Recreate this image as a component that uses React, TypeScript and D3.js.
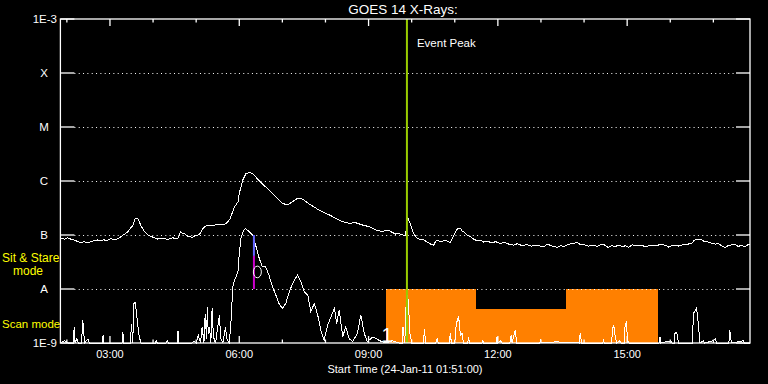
import * as d3 from "d3";

const W = 768;
const H = 384;

// times are decimal UT hours on 24-Jan-11, flux in W/m^2
const START_H = 1 + 51 / 60;
const END_H = START_H + 16;
const EVENT_PEAK = 9.89;
const MARK_TIME = 6.34;

const yLevels = [1e-3, 1e-4, 1e-5, 1e-6, 1e-7, 1e-8, 1e-9];
const yLabels = ["1E-3", "X", "M", "C", "B", "A", "1E-9"];
const majorHours = [3, 6, 9, 12, 15];
const majorLabels = ["03:00", "06:00", "09:00", "12:00", "15:00"];
const minorHours = [2, 4, 5, 7, 8, 10, 11, 13, 14, 16, 17];

const longFlux: [number, number][] = [
  [1.85, 8.7e-8], [1.95, 8.4e-8], [2.02, 8.9e-8], [2.1, 8.3e-8], [2.18, 8.0e-8], [2.25, 7.6e-8],
  [2.33, 7.2e-8], [2.4, 7.5e-8], [2.49, 7.2e-8], [2.56, 7.6e-8], [2.64, 7.9e-8], [2.72, 8.1e-8],
  [2.8, 7.9e-8], [2.86, 8.2e-8], [2.91, 7.7e-8], [2.97, 8.3e-8], [3.03, 8.5e-8], [3.1, 8.2e-8],
  [3.19, 8.5e-8], [3.26, 9.4e-8], [3.34, 1.04e-7], [3.4, 1.12e-7], [3.46, 1.28e-7], [3.53, 1.51e-7],
  [3.59, 2.04e-7], [3.65, 1.98e-7], [3.73, 1.43e-7], [3.78, 1.22e-7], [3.84, 1.07e-7], [3.92, 9.6e-8],
  [4.0, 9.1e-8], [4.11, 8.4e-8], [4.2, 8.7e-8], [4.27, 8.5e-8], [4.35, 8.3e-8], [4.46, 8.9e-8],
  [4.52, 8.5e-8], [4.58, 8.7e-8], [4.64, 1.15e-7], [4.7, 1.05e-7], [4.73, 1.07e-7], [4.8, 9.4e-8],
  [4.85, 9.3e-8], [4.92, 9.0e-8], [4.96, 9.6e-8], [5.04, 1.0e-7], [5.08, 1.04e-7], [5.15, 1.3e-7],
  [5.2, 1.43e-7], [5.26, 1.49e-7], [5.35, 1.47e-7], [5.43, 1.53e-7], [5.5, 1.55e-7], [5.58, 1.6e-7],
  [5.65, 1.58e-7], [5.7, 1.65e-7], [5.78, 1.95e-7], [5.84, 2.6e-7], [5.89, 3.34e-7], [5.97, 4.08e-7],
  [6.0, 5.9e-7], [6.08, 1.04e-6], [6.15, 1.35e-6], [6.23, 1.45e-6], [6.29, 1.4e-6], [6.35, 1.29e-6],
  [6.43, 1.07e-6], [6.54, 8.8e-7], [6.69, 6.8e-7], [6.85, 5.1e-7], [7.0, 3.86e-7], [7.12, 3.6e-7],
  [7.24, 4.14e-7], [7.35, 4.8e-7], [7.47, 4.6e-7], [7.62, 3.75e-7], [7.85, 2.9e-7], [8.09, 2.35e-7],
  [8.24, 2.04e-7], [8.4, 1.76e-7], [8.55, 1.65e-7], [8.7, 1.69e-7], [8.86, 1.53e-7], [9.01, 1.43e-7],
  [9.17, 1.24e-7], [9.32, 1.15e-7], [9.4, 1.22e-7], [9.48, 1.2e-7], [9.55, 1.12e-7], [9.63, 1.04e-7],
  [9.7, 1.07e-7], [9.79, 1.0e-7], [9.86, 9.8e-8], [9.9, 2.18e-7], [9.94, 1.8e-7], [9.98, 1.53e-7],
  [10.04, 1.1e-7], [10.1, 9.1e-8], [10.13, 8.7e-8], [10.2, 8.3e-8], [10.28, 8.1e-8], [10.36, 7.4e-8],
  [10.44, 6.8e-8], [10.51, 6.5e-8], [10.55, 7.5e-8], [10.59, 8.1e-8], [10.65, 7.6e-8], [10.71, 7.7e-8],
  [10.8, 7.9e-8], [10.9, 7.2e-8], [10.95, 9.0e-8], [10.99, 1.04e-7], [11.07, 1.33e-7], [11.13, 1.33e-7],
  [11.17, 1.18e-7], [11.21, 1.15e-7], [11.28, 1.0e-7], [11.36, 9.3e-8], [11.44, 8.4e-8], [11.52, 7.8e-8],
  [11.6, 8.0e-8], [11.67, 7.4e-8], [11.75, 7.7e-8], [11.85, 7.2e-8], [11.95, 7.5e-8], [12.06, 7.0e-8],
  [12.15, 7.3e-8], [12.25, 6.8e-8], [12.37, 6.5e-8], [12.45, 6.9e-8], [12.55, 6.4e-8], [12.68, 6.6e-8],
  [12.78, 6.2e-8], [12.88, 6.5e-8], [12.99, 6.25e-8], [13.07, 6.0e-8], [13.14, 6.8e-8], [13.25, 6.3e-8],
  [13.37, 5.9e-8], [13.46, 6.4e-8], [13.53, 6.1e-8], [13.6, 6.5e-8], [13.7, 6.9e-8], [13.78, 7.1e-8],
  [13.84, 7.3e-8], [13.92, 6.6e-8], [13.99, 6.7e-8], [14.1, 6.2e-8], [14.22, 6.5e-8], [14.3, 6.1e-8],
  [14.41, 6.8e-8], [14.48, 6.5e-8], [14.56, 5.9e-8], [14.64, 6.4e-8], [14.72, 6.1e-8], [14.8, 6.5e-8],
  [14.9, 6.0e-8], [14.96, 6.4e-8], [15.03, 5.9e-8], [15.12, 6.6e-8], [15.22, 6.3e-8], [15.34, 6.5e-8],
  [15.42, 6.0e-8], [15.52, 6.4e-8], [15.64, 6.25e-8], [15.75, 6.6e-8], [15.88, 6.5e-8], [15.96, 6.0e-8],
  [16.05, 6.4e-8], [16.19, 6.25e-8], [16.3, 6.6e-8], [16.42, 6.8e-8], [16.5, 7.1e-8], [16.54, 7.7e-8],
  [16.6, 8.4e-8], [16.66, 8.4e-8], [16.73, 8.1e-8], [16.8, 7.5e-8], [16.84, 7.6e-8], [16.94, 7.1e-8],
  [17.04, 6.8e-8], [17.12, 6.9e-8], [17.2, 6.3e-8], [17.27, 5.9e-8], [17.35, 6.4e-8], [17.43, 6.6e-8],
  [17.5, 6.7e-8], [17.58, 6.1e-8], [17.65, 6.5e-8], [17.73, 6.0e-8], [17.8, 6.6e-8], [17.85, 6.8e-8],
];

const shortFlux: [number, number][] = [
  [1.85, 1e-9], [1.95, 1.1e-9], [2.02, 1e-9], [2.15, 1e-9], [2.17, 2.0e-9], [2.19, 1e-9],
  [2.23, 1.2e-9], [2.27, 1e-9], [2.34, 1e-9], [2.37, 2.7e-9], [2.39, 1.6e-9], [2.41, 1e-9],
  [2.49, 1.2e-9], [2.52, 1e-9], [2.82, 1e-9], [2.84, 1.4e-9], [2.86, 1e-9], [3.28, 1e-9],
  [3.3, 1.6e-9], [3.32, 1e-9], [3.47, 1e-9], [3.5, 2.2e-9], [3.53, 1e-9], [3.55, 5.4e-9],
  [3.59, 5.6e-9], [3.62, 3.3e-9], [3.65, 2.0e-9], [3.68, 1.3e-9], [3.72, 1e-9], [4.05, 1e-9],
  [4.07, 1.1e-9], [4.1, 1e-9], [4.3, 1e-9], [4.33, 1.1e-9], [4.36, 1e-9], [4.56, 1e-9],
  [4.58, 1.7e-9], [4.6, 1e-9], [4.9, 1e-9], [4.95, 1.1e-9], [5.0, 1e-9], [5.05, 1.4e-9],
  [5.1, 1e-9], [5.14, 2.0e-9], [5.18, 1e-9], [5.21, 3.5e-9], [5.24, 1.2e-9], [5.26, 4.7e-9],
  [5.28, 1.5e-9], [5.31, 2.0e-9], [5.34, 1e-9], [5.37, 4.4e-9], [5.4, 1.3e-9], [5.45, 1e-9],
  [5.5, 2.0e-9], [5.54, 3.3e-9], [5.57, 1.2e-9], [5.62, 1e-9], [5.68, 2.0e-9], [5.71, 1.2e-9],
  [5.77, 1e-9], [5.81, 2.7e-9], [5.85, 1.1e-8], [5.89, 1.47e-8], [5.93, 1.7e-8], [5.97, 2.1e-8],
  [6.0, 4.6e-8], [6.04, 8.7e-8], [6.1, 1.2e-7], [6.14, 1.33e-7], [6.23, 1.15e-7], [6.31, 1.0e-7],
  [6.38, 6.5e-8], [6.45, 4.0e-8], [6.53, 2.6e-8], [6.61, 2.6e-8], [6.69, 1.8e-8], [6.77, 1.1e-8],
  [6.85, 7.7e-9], [6.92, 5.4e-9], [7.0, 4.4e-9], [7.08, 5.4e-9], [7.16, 8.9e-9], [7.24, 1.28e-8],
  [7.35, 1.82e-8], [7.43, 1.37e-8], [7.51, 8.9e-9], [7.59, 7.7e-9], [7.66, 3.8e-9], [7.74, 5.4e-9],
  [7.82, 3.3e-9], [7.9, 1.6e-9], [7.97, 1.14e-9], [8.05, 2.15e-9], [8.13, 3.07e-9], [8.21, 4.4e-9],
  [8.26, 2.3e-9], [8.32, 4.1e-9], [8.4, 1.3e-9], [8.47, 2.0e-9], [8.55, 1.2e-9], [8.63, 1.06e-9],
  [8.74, 1.5e-9], [8.82, 3.3e-9], [8.9, 1.5e-9], [8.97, 1.06e-9], [9.1, 1.3e-9], [9.26, 1.1e-9],
  [9.4, 1e-9], [9.55, 1.1e-9], [9.7, 1e-9], [9.78, 1e-9], [9.8, 2.0e-9], [9.84, 1e-9],
  [9.88, 8.4e-9], [9.92, 6.3e-9], [9.96, 1.5e-9], [10.0, 1e-9], [10.27, 1e-9], [10.3, 1.8e-9],
  [10.32, 1e-9], [10.56, 1e-9], [10.59, 1.2e-9], [10.62, 1e-9], [10.87, 1e-9], [10.9, 1.55e-9],
  [10.92, 1e-9], [11.0, 1e-9], [11.03, 2.0e-9], [11.06, 2.7e-9], [11.09, 3.1e-9], [11.12, 1.7e-9],
  [11.14, 1.4e-9], [11.17, 1.5e-9], [11.2, 1e-9], [11.3, 1e-9], [11.32, 1.3e-9], [11.34, 1e-9],
  [11.63, 1e-9], [11.65, 1.1e-9], [11.67, 1e-9], [11.96, 1e-9], [11.98, 1.3e-9], [12.0, 1e-9],
  [12.07, 1.1e-9], [12.1, 1e-9], [12.28, 1e-9], [12.31, 1.4e-9], [12.33, 1e-9], [12.4, 1.7e-9],
  [12.44, 1e-9], [12.97, 1e-9], [12.99, 1.1e-9], [13.01, 1e-9], [13.35, 1.05e-9], [13.89, 1e-9],
  [13.91, 1.5e-9], [13.93, 1.2e-9], [13.95, 1e-9], [14.43, 1e-9], [14.45, 1.1e-9], [14.47, 1e-9],
  [14.64, 1e-9], [14.66, 1.87e-9], [14.69, 2.07e-9], [14.73, 1.2e-9], [14.76, 1e-9], [14.83, 1.1e-9],
  [14.86, 1e-9], [14.93, 1e-9], [14.95, 2.0e-9], [14.98, 2.5e-9], [15.01, 1.1e-9], [15.04, 1e-9],
  [15.74, 1e-9], [15.76, 1.3e-9], [15.78, 1e-9], [16.01, 1.1e-9], [16.04, 1e-9], [16.09, 1e-9],
  [16.11, 1.5e-9], [16.15, 1.6e-9], [16.19, 1e-9], [16.51, 1e-9], [16.54, 3.55e-9], [16.59, 4.1e-9],
  [16.61, 4.4e-9], [16.65, 2.3e-9], [16.69, 1e-9], [16.77, 1.1e-9], [16.8, 1e-9], [17.0, 1.1e-9],
  [17.05, 1.2e-9], [17.07, 1e-9], [17.36, 1e-9], [17.38, 1.74e-9], [17.42, 1e-9], [17.69, 1.1e-9],
  [17.72, 1e-9], [17.85, 1e-9],
];

const modeSpans = [
  { start: 9.4, end: 11.5, mode: "sit" },
  { start: 11.5, end: 13.59, mode: "scan" },
  { start: 13.59, end: 15.72, mode: "sit" },
];
const modeTop: Record<string, number> = { sit: 1e-8, scan: 4.3e-9 };

const FONT = "Liberation Sans, Arial, sans-serif";

export default function App() {
  const left = 60.4;
  const right = 750;
  const top = 19;
  const bottom = 343;

  const x = d3.scaleLinear().domain([START_H, END_H]).range([left, right]);
  const y = d3.scaleLog().domain([1e-9, 1e-3]).range([bottom, top]).clamp(true);

  const line = d3
    .line<[number, number]>()
    .x((d) => x(d[0]))
    .y((d) => y(d[1]));

  return (
    <div style={{ position: "absolute", left: 0, top: 0 }}>
      <svg width={W} height={H} style={{ display: "block", background: "#000" }} fontFamily={FONT}>
        <rect width={W} height={H} fill="#000" />

        {/* observing mode bars */}
        <g shapeRendering="crispEdges">
          {modeSpans.map((s, i) => (
            <rect
              key={i}
              x={Math.round(x(s.start))}
              y={Math.round(y(modeTop[s.mode]))}
              width={Math.round(x(s.end)) - Math.round(x(s.start))}
              height={bottom - Math.round(y(modeTop[s.mode]))}
              fill="#ff8000"
            />
          ))}
        </g>

        {/* dotted flare-class lines */}
        {yLevels.slice(1, -1).map((v) => (
          <line
            key={v}
            x1={left + 14}
            x2={right - 14}
            y1={Math.round(y(v)) + 0.5}
            y2={Math.round(y(v)) + 0.5}
            stroke="#fff"
            strokeDasharray="1,3.33"
          />
        ))}

        <g shapeRendering="crispEdges">
          <path d={line(longFlux) ?? ""} fill="none" stroke="#fff" strokeWidth={1} />
          <path d={line(shortFlux) ?? ""} fill="none" stroke="#fff" strokeWidth={1} />
        </g>

        {/* event marker */}
        <line x1={x(MARK_TIME)} x2={x(MARK_TIME)} y1={y(1e-7)} y2={y(4.1e-8)} stroke="#6464ff" strokeWidth={2} />
        <line x1={x(MARK_TIME)} x2={x(MARK_TIME)} y1={y(4.1e-8)} y2={y(1e-8)} stroke="#cc00cc" strokeWidth={2} />
        <ellipse cx={x(6.42)} cy={y(2.07e-8)} rx={4} ry={5.8} fill="none" stroke="#fff" />
        <text x={x(9.43)} y={bottom - 1} fill="#fff" fontSize={20} textAnchor="middle">1</text>

        {/* event peak */}
        <line x1={x(EVENT_PEAK)} x2={x(EVENT_PEAK)} y1={top} y2={bottom} stroke="#99cc00" strokeWidth={2} />
        <text x={x(EVENT_PEAK) + 10} y={47} fill="#fff" fontSize={11.5}>Event Peak</text>

        {/* frame */}
        <rect x={left} y={top} width={right - left} height={bottom - top} fill="none" stroke="#fff" strokeWidth={1.3} />

        {/* y ticks and labels */}
        {yLevels.map((v, i) => (
          <g key={v}>
            <line x1={left} x2={left + 14} y1={y(v)} y2={y(v)} stroke="#fff" strokeWidth={1.3} />
            <line x1={right - 14} x2={right} y1={y(v)} y2={y(v)} stroke="#fff" strokeWidth={1.3} />
            <text
              x={i === 0 || i === yLevels.length - 1 ? 57 : 44}
              y={y(v) + 4}
              fill="#fff"
              fontSize={11.5}
              textAnchor={i === 0 || i === yLevels.length - 1 ? "end" : "middle"}
            >
              {yLabels[i]}
            </text>
          </g>
        ))}

        {/* x ticks */}
        {majorHours.map((h, i) => (
          <g key={h}>
            <line x1={x(h)} x2={x(h)} y1={top} y2={top + 7} stroke="#fff" strokeWidth={1.3} />
            <line x1={x(h)} x2={x(h)} y1={bottom} y2={bottom - 7} stroke="#fff" strokeWidth={1.3} />
            <text x={x(h)} y={358} fill="#fff" fontSize={11} textAnchor="middle">
              {majorLabels[i]}
            </text>
          </g>
        ))}
        {minorHours.map((h) => (
          <g key={h}>
            <line x1={x(h)} x2={x(h)} y1={top} y2={top + 3.5} stroke="#fff" strokeWidth={1.3} />
            <line x1={x(h)} x2={x(h)} y1={bottom} y2={bottom - 3.5} stroke="#fff" strokeWidth={1.3} />
          </g>
        ))}

        <text x={403} y={14} fill="#fff" fontSize={13.5} textAnchor="middle">GOES 14 X-Rays:</text>
        <text x={405} y={373} fill="#fff" fontSize={11} textAnchor="middle">Start Time (24-Jan-11 01:51:00)</text>

        {/* mode labels */}
        <text x={2} y={262} fill="#ffff00" fontSize={12}>Sit &amp; Stare</text>
        <text x={13} y={275} fill="#ffff00" fontSize={12}>mode</text>
        <text x={2} y={328} fill="#ffff00" fontSize={11.5}>Scan mode</text>
      </svg>
    </div>
  );
}
